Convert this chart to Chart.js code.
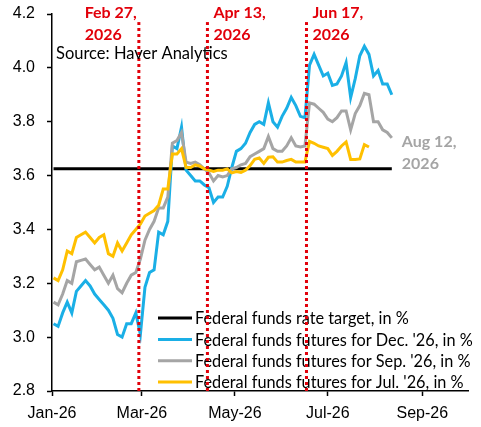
<!DOCTYPE html>
<html>
<head>
<meta charset="utf-8">
<script src="https://cdn.jsdelivr.net/npm/chart.js@4.4.1/dist/chart.umd.min.js"></script>
<style>
  html, body { margin: 0; padding: 0; background: #fff; }
  #wrap { width: 481px; height: 427px; }
</style>
</head>
<body>
<div id="wrap"><canvas id="myChart"></canvas></div>
<script>
// observation dates (every 3rd day, Jan 2 - Aug 12 2026)
const dates = [
  '2026-01-02','2026-01-05','2026-01-08','2026-01-11','2026-01-14','2026-01-17','2026-01-20','2026-01-23',
  '2026-01-26','2026-01-29','2026-02-01','2026-02-04','2026-02-07','2026-02-10','2026-02-13','2026-02-16',
  '2026-02-19','2026-02-22','2026-02-25','2026-02-28','2026-03-03','2026-03-06','2026-03-09','2026-03-12',
  '2026-03-15','2026-03-18','2026-03-21','2026-03-24','2026-03-27','2026-03-30','2026-04-02','2026-04-05',
  '2026-04-08','2026-04-11','2026-04-14','2026-04-17','2026-04-20','2026-04-23','2026-04-26','2026-04-29',
  '2026-05-02','2026-05-05','2026-05-08','2026-05-11','2026-05-14','2026-05-17','2026-05-20','2026-05-23',
  '2026-05-26','2026-05-29','2026-06-01','2026-06-04','2026-06-07','2026-06-10','2026-06-13','2026-06-16',
  '2026-06-19','2026-06-22','2026-06-25','2026-06-28','2026-07-01','2026-07-04','2026-07-07','2026-07-10',
  '2026-07-13','2026-07-16','2026-07-19','2026-07-22','2026-07-25','2026-07-28','2026-07-31','2026-08-03',
  '2026-08-06','2026-08-09','2026-08-12'
];

const targetRate = 3.625;

const decFutures = [
  3.05, 3.04, 3.09, 3.13, 3.09, 3.17, 3.19, 3.21, 3.19, 3.16, 3.14, 3.12, 3.10, 3.07, 3.01, 3.00,
  3.05, 3.05, 3.09, 3.01, 3.185, 3.24, 3.25, 3.39, 3.38, 3.43, 3.71, 3.70, 3.78, 3.62, 3.60, 3.58,
  3.58, 3.565, 3.555, 3.50, 3.52, 3.52, 3.56, 3.63, 3.69, 3.70, 3.72, 3.76, 3.79, 3.80, 3.79, 3.87,
  3.80, 3.78, 3.82, 3.85, 3.89, 3.86, 3.82, 3.815, 4.01, 4.05, 4.01, 3.97, 3.98, 3.935, 3.94, 3.97,
  4.02, 3.89, 3.96, 4.045, 4.08, 4.05, 3.97, 3.99, 3.94, 3.94, 3.90
];

const sepFutures = [
  3.13, 3.12, 3.16, 3.21, 3.20, 3.28, 3.285, 3.29, 3.27, 3.25, 3.26, 3.23, 3.20, 3.23, 3.18, 3.165,
  3.20, 3.23, 3.24, 3.29, 3.36, 3.40, 3.43, 3.48, 3.48, 3.52, 3.72, 3.73, 3.76, 3.65, 3.645, 3.65,
  3.64, 3.625, 3.61, 3.58, 3.60, 3.595, 3.60, 3.625, 3.63, 3.64, 3.645, 3.67, 3.68, 3.69, 3.70, 3.745,
  3.70, 3.69, 3.69, 3.71, 3.74, 3.71, 3.706, 3.71, 3.87, 3.865, 3.85, 3.835, 3.81, 3.80, 3.815, 3.84,
  3.84, 3.77, 3.83, 3.86, 3.905, 3.90, 3.80, 3.80, 3.77, 3.76, 3.74
];

const julFutures = [
  3.22, 3.21, 3.25, 3.32, 3.31, 3.37, 3.38, 3.39, 3.37, 3.35, 3.37, 3.38, 3.31, 3.30, 3.35, 3.32,
  3.35, 3.38, 3.40, 3.42, 3.45, 3.46, 3.47, 3.49, 3.55, 3.55, 3.68, 3.68, 3.70, 3.63, 3.63, 3.64,
  3.635, 3.625, 3.62, 3.615, 3.62, 3.62, 3.625, 3.61, 3.615, 3.612, 3.62, 3.637, 3.66, 3.665, 3.645, 3.668,
  3.67, 3.65, 3.65, 3.656, 3.66, 3.65, 3.65, 3.65, 3.727, 3.72, 3.71, 3.705, 3.70, 3.675, 3.69, 3.71,
  3.725, 3.66, 3.66, 3.662, 3.715, 3.706, null, null, null, null, null
];

const seriesLabels = [
  'Federal funds rate target, in %',
  "Federal funds futures for Dec. '26, in %",
  "Federal funds futures for Sep. '26, in %",
  "Federal funds futures for Jul. '26, in %"
];

const eventDates = ['2026-02-27', '2026-04-13', '2026-06-17'];
const eventLabels = [['Feb 27,', '2026'], ['Apr 13,', '2026'], ['Jun 17,', '2026']];
const endLabel = ['Aug 12,', '2026'];

const tickDates = ['2026-01-01', '2026-03-01', '2026-05-01', '2026-07-01', '2026-09-01'];
const tickLabels = ['Jan-26', 'Mar-26', 'May-26', 'Jul-26', 'Sep-26'];
const xStart = '2026-01-01';
const xEnd = '2026-10-01';
const yTicks = [2.8, 3.0, 3.2, 3.4, 3.6, 3.8, 4.0, 4.2];

function dayOf (s) {
  const [y, m, d] = s.split('-').map(Number);
  return (Date.UTC(y, m - 1, d) - Date.UTC(2026, 0, 1)) / 864e5;
}

const days = dates.map(dayOf);
const toPoints = vals => vals.map((v, i) => ({ x: days[i], y: v }));

const RED = '#e2000a';
const GREY = '#a5a5a5';
const TEXT_FONT = 'Lato, "Open Sans", sans-serif';

const lineStyle = (color, order) => ({
  borderColor: color,
  backgroundColor: color,
  borderWidth: 3,
  pointRadius: 0,
  tension: 0,
  fill: false,
  spanGaps: false,
  order: order
});

const datasets = [
  Object.assign({ label: seriesLabels[0], data: [{ x: days[0], y: targetRate }, { x: days[days.length - 1], y: targetRate }] }, lineStyle('#000000', 3)),
  Object.assign({ label: seriesLabels[1], data: toPoints(decFutures) }, lineStyle('#1aafe6', 2)),
  Object.assign({ label: seriesLabels[2], data: toPoints(sepFutures) }, lineStyle(GREY, 1)),
  Object.assign({ label: seriesLabels[3], data: toPoints(julFutures) }, lineStyle('#ffc000', 0))
];

eventDates.forEach(d => {
  datasets.push({
    label: 'event',
    data: [{ x: dayOf(d), y: yTicks[0] }, { x: dayOf(d), y: 4.17 }],
    borderColor: RED,
    borderWidth: 3,
    borderDash: [3, 3],
    borderCapStyle: 'butt',
    pointRadius: 0,
    order: -1
  });
});

// legend drawn inside plot area, under the dotted event lines
const innerLegend = {
  id: 'innerLegend',
  beforeDatasetsDraw (chart) {
    const { ctx, chartArea } = chart;
    ctx.save();
    ctx.font = '16.3px ' + TEXT_FONT;
    ctx.textBaseline = 'middle';
    ctx.fillStyle = '#000';
    const x0 = chartArea.left + 106;
    for (let i = 0; i < 4; i++) {
      const ds = chart.data.datasets[i];
      const y = chartArea.bottom - 9 - (3 - i) * 21.3;
      ctx.strokeStyle = ds.borderColor;
      ctx.lineWidth = 3;
      ctx.beginPath();
      ctx.moveTo(x0, y);
      ctx.lineTo(x0 + 34, y);
      ctx.stroke();
      ctx.fillText(ds.label, x0 + 37, y + 1);
    }
    ctx.restore();
  }
};

const annotations = {
  id: 'annotations',
  afterDraw (chart) {
    const { ctx, chartArea } = chart;
    const xs = chart.scales.x;
    const ys = chart.scales.y;
    ctx.save();
    ctx.textBaseline = 'middle';
    ctx.textAlign = 'left';

    ctx.font = 'bold 16px ' + TEXT_FONT;
    ctx.fillStyle = RED;
    eventDates.forEach((d, i) => {
      const lx = xs.getPixelForValue(dayOf(d));
      const lines = eventLabels[i];
      let left = lx + 6;
      if (i === 0) left = lx - 2 - ctx.measureText(lines[0]).width;
      lines.forEach((t, k) => ctx.fillText(t, left, 13 + k * 22));
    });

    const lastX = xs.getPixelForValue(days[days.length - 1]);
    const lastY = ys.getPixelForValue(sepFutures[sepFutures.length - 1]);
    ctx.fillStyle = GREY;
    endLabel.forEach((t, k) => ctx.fillText(t, lastX + 10, lastY + 4 + k * 22));

    ctx.font = '16.5px ' + TEXT_FONT;
    ctx.fillStyle = '#000';
    ctx.fillText('Source: Haver Analytics', chartArea.left + 4, 54);
    ctx.restore();
  }
};

const ctx = document.getElementById('myChart');
new Chart(ctx, {
  type: 'line',
  data: { datasets },
  options: {
    responsive: true,
    maintainAspectRatio: false,
    animation: false,
    devicePixelRatio: 1,
    layout: { padding: { top: 14, right: 13, left: 0, bottom: 0 } },
    plugins: {
      legend: { display: false },
      tooltip: { enabled: false }
    },
    scales: {
      x: {
        type: 'linear',
        min: dayOf(xStart),
        max: dayOf(xEnd),
        afterBuildTicks: scale => { scale.ticks = tickDates.map(d => ({ value: dayOf(d) })); },
        afterFit: scale => { scale.height = 36; scale.paddingLeft = 0; scale.paddingRight = 0; },
        ticks: {
          autoSkip: false,
          maxRotation: 0,
          padding: 8,
          color: '#000',
          font: { family: '"Liberation Sans", Arial, sans-serif', size: 16 },
          callback: (v, i) => tickLabels[i]
        },
        grid: { display: true, drawOnChartArea: false, tickLength: 5, color: '#000', tickWidth: 1.5 },
        border: { display: true, color: '#000', width: 1.5 }
      },
      y: {
        min: yTicks[0],
        max: yTicks[yTicks.length - 1],
        afterBuildTicks: scale => { scale.ticks = yTicks.map(v => ({ value: v })); },
        afterFit: scale => { scale.width = 52; scale.paddingTop = 0; scale.paddingBottom = 0; },
        ticks: {
          padding: 12,
          color: '#000',
          font: { family: '"Liberation Sans", Arial, sans-serif', size: 16 },
          callback: v => v.toFixed(1)
        },
        grid: { display: true, drawOnChartArea: false, tickLength: 5, color: '#000', tickWidth: 1.5 },
        border: { display: true, color: '#000', width: 1.5 }
      }
    }
  },
  plugins: [innerLegend, annotations]
});
</script>
</body>
</html>
